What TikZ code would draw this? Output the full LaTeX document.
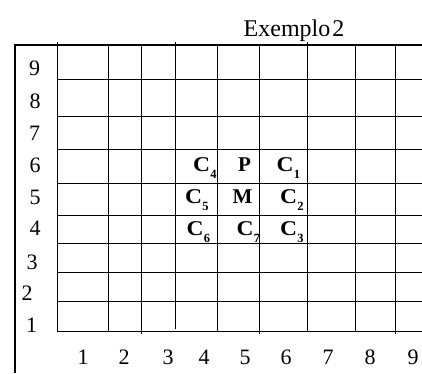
\documentclass[tikz,border=0pt]{standalone}
\usepackage{fontspec}
\setmainfont{Liberation Serif}
\begin{document}
\begin{tikzpicture}[x=1pt,y=-1pt,
  gridline/.style={line width=1pt, black},
  frameline/.style={line width=1.2pt, black},
  numlbl/.style={inner sep=0pt, font=\fontsize{22}{22}\selectfont},
  celllbl/.style={inner sep=0pt, anchor=base west, font=\fontsize{21}{21}\selectfont\bfseries},
  titlelbl/.style={inner sep=0pt, anchor=base, font=\fontsize{24}{24}\selectfont}]
\newcommand{\csub}[1]{\scalebox{1.12}[1]{C}\kern0.3pt\raisebox{-7pt}{\fontsize{12.5}{12.5}\selectfont\bfseries #1}}
\useasboundingbox (0,0) rectangle (422,373);
% outer frame
\coordinate (fTL) at (15,45);
\coordinate (fBL) at (15,373);
\coordinate (fTR) at (422,45);
\draw[frameline] (fBL) -- (fTL) -- (fTR);
% horizontal grid lines
\foreach \yy in {79,116.7,149.3,183.3,215,243.3,272.3,301.7,331.7}
  \draw[gridline] (57,\yy) -- (422,\yy);
% vertical grid lines
\foreach \xx/\ya/\yb in {57/42/331.7,108.3/45/331.7,141.7/45/333.5,175.7/42/329,217.3/45/331.7,259/45/333.5,307.3/42/331.7,355.7/45/331.7,395/45/333.5}
  \draw[gridline] (\xx,\ya) -- (\xx,\yb);
% title
\node[titlelbl] (title) at (294,36) {Exemplo\kern2pt2};
% row labels
\node[numlbl] (r9) at (34.7,68.8) {9};
\node[numlbl] (r8) at (35,100.8) {8};
\node[numlbl] (r7) at (34.6,133.3) {7};
\node[numlbl] (r6) at (35,165.3) {6};
\node[numlbl] (r5) at (35,197.3) {5};
\node[numlbl] (r4) at (35,228.7) {4};
\node[numlbl] (r3) at (32,262) {3};
\node[numlbl] (r2) at (27,293.3) {2};
\node[numlbl] (r1) at (31.6,325) {1};
% column labels
\foreach \n/\xx in {1/83,2/124,3/168,4/204,5/245,6/286,7/328,8/370,9/413}
  \node[numlbl] (c\n) at (\xx,357) {\n};
% cell labels
\node[celllbl] (C4) at (193,171.7) {\csub{4}};
\node[celllbl] (P)  at (238,171.7) {P};
\node[celllbl] (C1) at (276.5,171.7) {\csub{1}};
\node[celllbl] (C5) at (185,203.3) {\csub{5}};
\node[celllbl] (M)  at (232.5,203.3) {M};
\node[celllbl] (C2) at (280,203.3) {\csub{2}};
\node[celllbl] (C6) at (186.5,235) {\csub{6}};
\node[celllbl] (C7) at (236.5,235) {\csub{7}};
\node[celllbl] (C3) at (280,235) {\csub{3}};
\end{tikzpicture}
\end{document}
